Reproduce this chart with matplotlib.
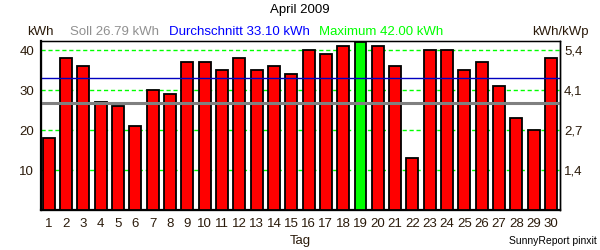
import matplotlib
matplotlib.use("Agg")
import matplotlib.pyplot as plt
import numpy as np

plt.rcParams['font.family'] = ['Liberation Sans', 'DejaVu Sans']

days = list(range(1, 31))
energy = [18, 38, 36, 27, 26, 21, 30, 29, 37, 37, 35, 38, 35, 36, 34,
          40, 39, 41, 42, 41, 36, 13, 40, 40, 35, 37, 31, 23, 20, 38]
soll = 26.79
avg = 33.10
maximum = 42.00
kwp = 7.4
left_ticks = [10, 20, 30, 40]

title = "April 2009"
txt_col = "#2a1a0a"

fig = plt.figure(figsize=(6, 2.5), dpi=100)
ax = fig.add_axes([41/600, 40/250, 519/600, 169/250])

colors = ['#00ff00' if v == max(energy) else '#ff0000' for v in energy]
ax.bar(days, energy, width=0.69, color=colors, edgecolor='black', linewidth=1.3, zorder=3)

for t in left_ticks:
    ax.axhline(t, color='#00ff00', linestyle=(0, (3, 2)), linewidth=1.0, zorder=2)
ax.axhline(avg, color='#0000c0', linewidth=1.0, zorder=4)
ax.axhline(soll, color='#808080', linewidth=2.2, zorder=4)

fs = 9.5
ax.set_xlim(0.55, 30.52)
ax.set_ylim(0, 42.3)
ax.set_xticks(days)
ax.set_xticklabels([str(d) for d in days])
ax.set_yticks(left_ticks)
ax.tick_params(axis='both', length=0, labelsize=fs, labelcolor=txt_col)
ax.tick_params(axis='x', pad=6)
ax.tick_params(axis='y', pad=5)
for s in ['left', 'bottom']:
    ax.spines[s].set_linewidth(1.6)
for s in ['top', 'right']:
    ax.spines[s].set_linewidth(1.0)

ax2 = ax.twinx()
ax2.set_ylim(0, 42.3 / kwp)
ax2.set_yticks([t / kwp for t in left_ticks])
ax2.set_yticklabels([f"{t / kwp:.1f}".replace('.', ',') for t in left_ticks])
ax2.tick_params(axis='y', length=0, labelsize=fs, labelcolor=txt_col, pad=3)
ax2.spines['right'].set_linewidth(1.0)

fig.text(0.5, 1 - 10/250, title, ha='center', va='center', fontsize=fs, color='black')
hy = 1 - 32/250
fig.text(27/600, hy, "kWh", ha='left', va='center', fontsize=fs, color=txt_col)
fig.text(70/600, hy, f"Soll {soll:.2f} kWh", ha='left', va='center', fontsize=fs, color='#909090')
fig.text(169/600, hy, f"Durchschnitt {avg:.2f} kWh", ha='left', va='center', fontsize=fs, color='#0000ff')
fig.text(319/600, hy, f"Maximum {maximum:.2f} kWh", ha='left', va='center', fontsize=fs, color='#00ff00')
fig.text(532/600, hy, "kWh/kWp", ha='left', va='center', fontsize=fs, color=txt_col)
fig.text(0.5, 1 - 241/250, "Tag", ha='center', va='center', fontsize=fs, color=txt_col)
fig.text(597/600, 1 - 241/250, "SunnyReport pinxit", ha='right', va='center', fontsize=7.5, color='black')

fig.savefig("out.png", dpi=100)
